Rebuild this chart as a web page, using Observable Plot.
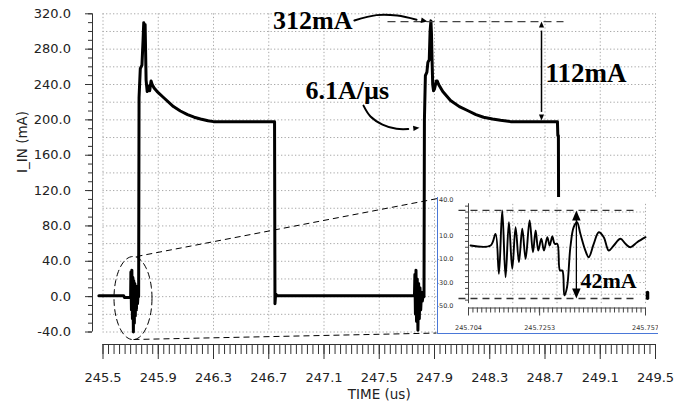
<!DOCTYPE html>
<html><head><meta charset="utf-8">
<script src="https://cdn.jsdelivr.net/npm/d3@7"></script>
<script src="https://cdn.jsdelivr.net/npm/@observablehq/plot@0.6"></script>
<style>
html,body{margin:0;padding:0;background:#fff;}
#wrap{position:relative;width:686px;height:409px;overflow:hidden;background:#fff;}
#inset{position:absolute;left:437px;top:197px;border-left:1px solid #4a78d8;border-bottom:1px solid #4a78d8;background:#fff;line-height:0;}
</style></head><body><div id="wrap"><div id="main"></div><div id="inset"></div></div>
<script>
// ---------- main waveform (time in µs, current in mA) ----------
const mainTime = [
  245.47, 245.65, 245.655, 245.70,
  245.702, 245.706, 245.709, 245.713, 245.716, 245.720, 245.723, 245.727, 245.730, 245.734, 245.738, 245.742, 245.746, 245.750, 245.754, 245.758,
  245.761, 245.770, 245.782, 245.790, 245.795, 245.800, 245.805, 245.812, 245.820, 245.830, 245.838, 245.848, 245.856, 245.870, 245.892,
  245.940, 246.010, 246.060, 246.112, 246.160, 246.206, 246.260, 246.300, 246.500, 246.742,
  246.745, 246.750, 246.760,
  247.755, 247.758, 247.762, 247.766, 247.770, 247.775, 247.780, 247.785, 247.790, 247.795, 247.800, 247.806, 247.812, 247.818, 247.824,
  247.827, 247.834, 247.845, 247.852, 247.862, 247.868, 247.874, 247.878, 247.882, 247.887, 247.893, 247.900, 247.913, 247.920, 247.930, 247.960,
  248.016, 248.080, 248.139, 248.200, 248.255, 248.320, 248.378, 248.450, 248.650, 248.790, 248.793, 248.797, 248.800, 248.810, 248.850
];
const mainCurrent = [
  1, 1, -1, -1,
  28, -15, 30, -25, 22, -40, 18, -30, 15, -22, 12, -15, 8, -8, 3, 0,
  225, 258, 262, 290, 310, 300, 308, 245, 232, 238, 233, 244, 240, 236, 232,
  225, 215, 210, 206, 203, 201, 199, 198, 198, 198,
  -8, 3, 1,
  1, 25, -20, 30, -28, 20, -38, 15, -25, 10, -15, 5, -5, 2, 0,
  200, 250, 254, 265, 268, 300, 312, 298, 270, 240, 233, 235, 244, 244, 240, 232,
  222, 215, 210.6, 206, 203, 201, 199.5, 198, 198, 198, 182, 182, 0, 1, 1
];

// ---------- zoomed inset waveform ----------
const insetTime = [
  245.7046, 245.7106, 245.7121, 245.7131, 245.7141, 245.7151, 245.7161, 245.7171, 245.7181, 245.7191,
  245.7201, 245.7211, 245.7223, 245.7233, 245.7241, 245.7249, 245.7258, 245.7266, 245.7276, 245.7283,
  245.7291, 245.7298, 245.7306, 245.7314, 245.7321, 245.7327, 245.7335, 245.7345, 245.7355, 245.7365,
  245.7375, 245.7390, 245.7400, 245.7415, 245.7430, 245.7445, 245.7460, 245.7475, 245.7495, 245.7510,
  245.7525, 245.7545, 245.7570
];
const insetCurrent = [
  1.5, 1.5, 11.4, -22.6, 31.3, -25.5, 21.3, -18.4, 17.1, -12.7,
  15.7, -9.9, 22.8, -4.2, 14.3, -2.8, 7.2, -2.8, 8.6, 1.5,
  9.1, 2.9, 2.9, -19.8, -19.8, -41, -34, 0, 17.1, 21.3,
  11.4, -2.8, -8.5, 2.9, 12.8, 8.6, -2.8, 1.5, 7.2, 2.9,
  0, 4.3, 8.6
];

// ---------- ticks & labels ----------
const xTickValues = [245.5, 245.9, 246.3, 246.7, 247.1, 247.5, 247.9, 248.3, 248.7, 249.1, 249.5];
const xTickLabels = ["245.5", "245.9", "246.3", "246.7", "247.1", "247.5", "247.9", "248.3", "248.7", "249.1", "249.5"];
const yTickValues = [320, 280, 240, 200, 160, 120, 80, 40, 0, -40];
const yTickLabels = ["320.0", "280.0", "240.0", "200.0", "160.0", "120.0", "80.0", "40.0", "0.0", "-40.0"];
const yGridValues = [320, 300, 280, 260, 240, 220, 200, 180, 160, 140, 120, 100, 80, 60, 40, 20, 0, -20, -40];
const insetXTickValues = [245.704, 245.7253, 245.757];
const insetXTickLabels = ["245.704", "245.7253", "245.757"];
const insetYTickValues = [40, 10, -10, -30, -50];
const insetYTickLabels = ["40.0", "10.0", "-10.0", "-30.0", "-50.0"];
const insetYGridValues = [30, 20, 10, 0, -10, -20, -30, -40];
const insetXGridValues = [245.704, 245.71725, 245.7305, 245.74375, 245.757];

// ---------- annotation texts ----------
const peakLabel = "312mA", deltaLabel = "112mA", slopeLabel = "6.1A/µs", ringLabel = "42mA";
const xLabel = "TIME (us)", yLabel = "I_IN (mA)";

const xMinor = d3.range(0, 101).map(i => 245.5 + i * 0.04);
const yMinor = d3.range(0, 37).map(i => -40 + i * 10);

const mainData = mainTime.map((t, i) => ({t, v: mainCurrent[i]}));
const insetData = insetTime.map((t, i) => ({t, v: insetCurrent[i]}));

const arrowHead = {draw(ctx, size) {
  const r = Math.sqrt(size / Math.PI);
  ctx.moveTo(0, 0); ctx.lineTo(-2 * r, -0.85 * r); ctx.lineTo(-2 * r, 0.85 * r); ctx.closePath();
}};

// ellipse around first ringing
const ell = {t: 245.7172, v: -1.6, rt: 0.1376, rv: 47};
const ellipsePts = d3.range(0, 73).map(i => {
  const a = i / 72 * 2 * Math.PI;
  return {t: ell.t + ell.rt * Math.cos(a), v: ell.v + ell.rv * Math.sin(a)};
});

const serif = {fontFamily: "Liberation Serif, Times New Roman, serif", fontWeight: "bold", fill: "black"};
const gridStyle = {stroke: "#a8a8a8", strokeOpacity: 1, strokeDasharray: "1.3,2.2", strokeWidth: 1};

const main = Plot.plot({
  width: 686, height: 409,
  marginLeft: 102.5, marginRight: 31, marginTop: 13.3, marginBottom: 77.5,
  style: {fontFamily: "DejaVu Sans, sans-serif", fontSize: "13px", color: "#222", background: "white", overflow: "visible"},
  x: {domain: [245.5, 249.5], axis: null},
  y: {domain: [-40, 320], axis: null},
  marks: [
    Plot.gridX(xTickValues, gridStyle),
    Plot.gridY(yGridValues, gridStyle),
    // y axis (offset left)
    Plot.ruleX([245.5], {y1: -40, y2: 320, dx: -10.5, stroke: "#333"}),
    Plot.axisY(yMinor, {tickSize: 4, dx: -10.5, text: null, label: null, stroke: "#333"}),
    Plot.axisY(yTickValues, {tickSize: 7, dx: -10.5, text: null, label: null, stroke: "#333"}),
    Plot.axisY(yTickValues, {tickSize: 0, tickPadding: 32, label: null, tickFormat: (d, i) => yTickLabels[i], fill: "#222"}),
    // x axis (offset down)
    Plot.ruleY([-40], {x1: 245.5, x2: 249.5, dy: 12.5, stroke: "#333"}),
    Plot.axisX(xMinor, {tickSize: 10, dy: 12.5, text: null, label: null, stroke: "#333"}),
    Plot.axisX(xTickValues, {tickSize: 15, dy: 12.5, text: null, label: null, stroke: "#333"}),
    Plot.axisX(xTickValues, {tickSize: 0, tickPadding: 28, dy: 12.5, label: null, tickFormat: (d, i) => xTickLabels[i], fill: "#222"}),
    Plot.text([xLabel], {frameAnchor: "bottom", dy: 67, fontSize: 13.5, fill: "#222"}),
    Plot.text([yLabel], {frameAnchor: "left", dx: -80, dy: 0, rotate: -90, fontSize: 13.5, fill: "#222"}),
    // waveform
    Plot.line(mainData, {x: "t", y: "v", stroke: "black", strokeWidth: 3, strokeLinejoin: "round"}),
    // ellipse + connectors
    Plot.line(ellipsePts, {x: "t", y: "v", stroke: "black", strokeWidth: 1, strokeDasharray: "6,4"}),
    Plot.link([{x1: 245.7425, y1: 45.4, x2: 247.9217, y2: 111.0}, {x1: 245.7208, y1: -48.5, x2: 247.9145, y2: -41.2}],
      {x1: "x1", y1: "y1", x2: "x2", y2: "y2", stroke: "black", strokeWidth: 1, strokeDasharray: "6,4"}),
    // peak dashed line
    Plot.link([{x1: 247.5597, x2: 248.8339, y: 311.2}], {x1: "x1", x2: "x2", y1: "y", y2: "y", stroke: "#444", strokeWidth: 1.2, strokeDasharray: "8,5"}),
    // 112mA double arrow
    Plot.link([{x: 248.6747, y1: 301, y2: 209}], {x1: "x", x2: "x", y1: "y1", y2: "y2", stroke: "black", strokeWidth: 1.5}),
    // curved arrows
    Plot.line([{t: 247.32, v: 312.4}, {t: 247.48, v: 318.5}, {t: 247.63, v: 318.0}, {t: 247.77, v: 313.3}],
      {x: "t", y: "v", curve: "catmull-rom", stroke: "black", strokeWidth: 2}),
    Plot.line([{t: 247.386, v: 216.1}, {t: 247.4367, v: 203.8}, {t: 247.5235, v: 194.7}, {t: 247.6249, v: 189.9}, {t: 247.71, v: 189.6}],
      {x: "t", y: "v", curve: "catmull-rom", stroke: "black", strokeWidth: 2}),
    Plot.dot([
      {t: 247.849, v: 311.2, rot: 12, r: 7},
      {t: 247.7914, v: 191.0, rot: -6, r: 6.5},
      {t: 248.6747, v: 311.2, rot: -90, r: 6},
      {t: 248.6747, v: 199.2, rot: 90, r: 6}
    ], {x: "t", y: "v", symbol: arrowHead, r: "r", rotate: "rot", fill: "black", stroke: "none"}),
    // labels
    Plot.text([peakLabel], {x: 247.306, y: 312.4, textAnchor: "end", fontSize: 26, ...serif}),
    Plot.text([slopeLabel], {x: 246.966, y: 233.2, textAnchor: "start", fontSize: 26, ...serif}),
    Plot.text([deltaLabel], {x: 248.7036, y: 252.4, textAnchor: "start", fontSize: 27, ...serif})
  ]
});
document.getElementById("main").appendChild(main);

const inset = Plot.plot({
  width: 220, height: 136,
  marginLeft: 30, marginRight: 13, marginTop: 2.75, marginBottom: 27.5,
  style: {fontFamily: "DejaVu Sans, sans-serif", fontSize: "6.5px", color: "#333", background: "white", overflow: "hidden"},
  x: {domain: [245.704, 245.757], axis: null},
  y: {domain: [-50, 40], axis: null},
  marks: [
    Plot.gridX(insetXGridValues, {...gridStyle, y1: -48, y2: 37}),
    Plot.gridY(insetYGridValues, gridStyle),
    Plot.ruleX([245.704], {y1: -48, y2: 37, stroke: "#444"}),
    Plot.axisY(d3.range(-45, 40, 5), {tickSize: 3, text: null, label: null, stroke: "#444"}),
    Plot.axisY(insetYTickValues, {tickSize: 0, tickPadding: 15, label: null, tickFormat: (d, i) => insetYTickLabels[i], fill: "#333"}),
    Plot.ruleY([-50], {x1: 245.704, x2: 245.757, dy: 2, stroke: "#444"}),
    Plot.axisX(d3.range(0, 41).map(i => 245.704 + i * 0.053 / 40), {tickSize: 5, dy: 2, text: null, label: null, stroke: "#444"}),
    Plot.axisX(insetXTickValues, {tickSize: 8, dy: 2, text: null, label: null, stroke: "#444"}),
    Plot.axisX(insetXTickValues, {tickSize: 0, tickPadding: 17, dy: 2, label: null, tickFormat: (d, i) => insetXTickLabels[i], fill: "#333"}),
    Plot.line(insetData, {x: "t", y: "v", curve: "catmull-rom", stroke: "black", strokeWidth: 1.9}),
    Plot.link([{v: 31.3}, {v: -43.6}], {x1: 245.701, x2: 245.754, y1: "v", y2: "v", stroke: "#333", strokeWidth: 1.3, strokeDasharray: "7,5"}),
    Plot.link([{x: 245.7363, y1: 24, y2: -36}], {x1: "x", x2: "x", y1: "y1", y2: "y2", stroke: "black", strokeWidth: 1.3}),
    Plot.dot([{t: 245.7363, v: 31.3, rot: -90}, {t: 245.7363, v: -43.6, rot: 90}],
      {x: "t", y: "v", symbol: arrowHead, r: 5, rotate: "rot", fill: "black", stroke: "none"}),
    Plot.link([{x: 245.7576, y1: -38.5, y2: -43.5}], {x1: "x", x2: "x", y1: "y1", y2: "y2", stroke: "black", strokeWidth: 3.5, strokeLinecap: "round"}),
    Plot.text([ringLabel], {x: 245.7375, y: -28.3, textAnchor: "start", fontSize: 22, ...serif})
  ]
});
document.getElementById("inset").appendChild(inset);
</script></body></html>
